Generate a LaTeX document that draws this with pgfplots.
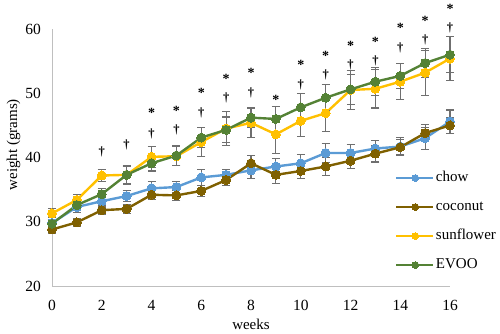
\documentclass[border=0pt]{standalone}
\usepackage{pgfplots}
\usepackage{pgfplotstable}
\pgfplotsset{compat=1.18}
\usepackage{fontspec}
\setmainfont{Liberation Serif}
\definecolor{chow}{HTML}{5B9BD5}
\definecolor{coco}{HTML}{7F6000}
\definecolor{sun}{HTML}{FFC000}
\definecolor{evoo}{HTML}{548235}
\definecolor{errc}{HTML}{6F6F6F}
\definecolor{axc}{HTML}{BFBFBF}

\pgfplotstableread{
w chow chowe coco cocoe sun sune evoo evooe
0  29.8 0.6 28.8 0.6 31.3 0.7 29.7 0.6
1  32.3 0.9 29.9 0.6 33.4 0.8 32.6 0.8
2  33.2 0.9 31.8 0.7 37.2 1.0 34.3 0.9
3  34.0 0.8 32.0 0.7 37.3 1.3 37.3 1.5
4  35.2 1.1 34.2 0.7 40.1 1.6 39.1 1.2
5  35.4 0.9 34.1 0.8 40.2 1.5 40.3 1.5
6  36.9 1.3 34.8 0.9 42.4 2.3 43.1 1.6
7  37.3 0.9 36.5 0.9 44.5 2.6 44.3 2.0
8  38.0 1.3 39.1 1.2 45.4 2.3 46.2 1.6
9  38.6 1.3 37.3 1.3 43.6 3.0 46.0 2.0
10 39.1 1.4 37.9 1.2 45.7 2.4 47.8 2.1
11 40.7 1.5 38.6 1.4 46.9 2.8 49.3 2.0
12 40.7 1.3 39.5 1.2 50.5 3.0 50.6 2.3
13 41.4 1.3 40.6 1.3 50.7 3.0 51.8 2.2
14 41.7 1.4 41.6 1.2 51.8 2.8 52.7 2.0
15 43.0 1.7 43.8 1.3 53.2 3.5 54.7 2.2
16 45.6 1.8 45.0 1.2 55.4 3.4 56.0 2.8
}\datatable

\pgfplotstableread{
w y
4 47.3
5 47.6
6 50.5
7 52.6
8 53.6
9 49.4
10 54.8
11 56.2
12 57.7
13 58.4
14 60.6
15 61.6
16 63.5
}\startable

\pgfplotstableread{
w y
2 40.8
3 41.9
4 43.7
5 44.3
6 47.0
7 49.2
8 50.1
10 51.3
11 52.8
12 54.4
13 55.0
14 57.1
15 58.3
16 60.1
}\daggertable

\pgfplotsset{
  errstyle/.style={line width=2.4pt, mark=*, mark size=4.5pt,
    /pgfplots/error bars/y dir=both, /pgfplots/error bars/y explicit,
    /pgfplots/error bars/error bar style={line width=1.1pt, color=errc, solid},
    /pgfplots/error bars/error mark options={rotate=90, mark size=4pt, line width=1.1pt, color=errc}},
}

\begin{document}
\begin{tikzpicture}
\begin{axis}[
  scale only axis, width=398pt, height=257pt,
  xmin=0, xmax=16, ymin=20, ymax=60,
  clip=false,
  axis x line=bottom, axis y line=left,
  axis line style={-, draw=axc, line width=0.9pt},
  major tick length=0pt,
  xtick={0,2,...,16}, ytick={20,30,...,60},
  /pgf/number format/assume math mode=true,
  tick label style={font=\fontsize{15.5}{18}\selectfont, inner sep=0pt},
  xticklabel style={anchor=north, yshift=-14pt},
  yticklabel style={anchor=east, xshift=-11pt},
  xlabel={weeks}, ylabel={weight (grams)},
  label style={font=\fontsize{15}{18}\selectfont, inner sep=0pt},
  xlabel style={at={(axis description cs:0.5,-0.171)}, anchor=base},
  ylabel style={at={(axis description cs:-0.0879,0.55)}, anchor=base},
  legend style={draw=none, fill=none, at={(axis description cs:0.862,0.452)}, anchor=north west,
    font=\fontsize{15}{18}\selectfont, row sep=13pt, inner sep=0pt,
    nodes={inner sep=1.5pt, text height=10pt, text depth=3pt}},
  legend cell align=left,
  legend image code/.code={\draw[#1, mark=none, line width=2.2pt] (0pt,0pt) -- (37pt,0pt);
    \draw[#1, mark size=3.4pt] plot coordinates {(19pt,0pt)};},
]
\addplot[errstyle, color=chow, mark options={fill=chow, draw=chow, line width=0pt}] table[x=w, y=chow, y error=chowe] {\datatable};
\addlegendentry{chow}
\addplot[errstyle, color=coco, mark options={fill=coco, draw=coco, line width=0pt}] table[x=w, y=coco, y error=cocoe] {\datatable};
\addlegendentry{coconut}
\addplot[errstyle, color=sun, mark options={fill=sun, draw=sun, line width=0pt}] table[x=w, y=sun, y error=sune] {\datatable};
\addlegendentry{sunflower}
\addplot[errstyle, color=evoo, mark options={fill=evoo, draw=evoo, line width=0pt}] table[x=w, y=evoo, y error=evooe] {\datatable};
\addlegendentry{EVOO}
\addplot[draw=none, mark=none, forget plot,
  nodes near coords={*}, nodes near coords align={center},
  every node near coord/.append style={font=\bfseries\fontsize{14}{16}\selectfont, inner sep=0pt, yshift=-2.5pt, text=black}]
  table[x=w, y=y] {\startable};
\addplot[draw=none, mark=none, forget plot,
  nodes near coords={\textdagger}, nodes near coords align={center},
  every node near coord/.append style={font=\bfseries\fontsize{12.5}{15}\selectfont, inner sep=0pt, text=black}]
  table[x=w, y=y] {\daggertable};
\end{axis}
\pgfresetboundingbox
\path[use as bounding box] (-52pt,-48pt) rectangle (448pt,286pt);
\end{tikzpicture}
\end{document}
